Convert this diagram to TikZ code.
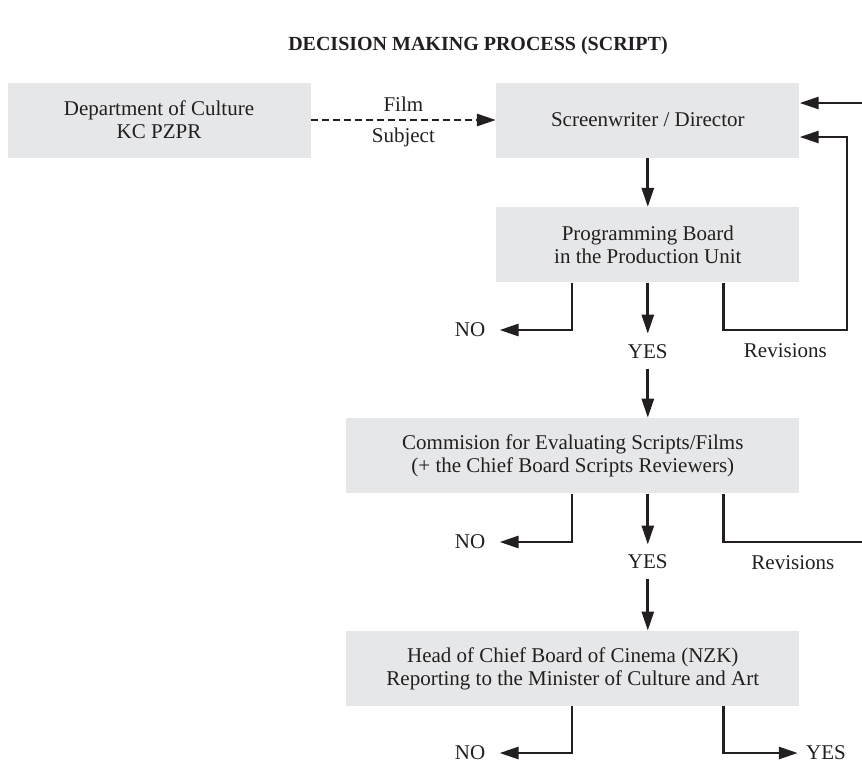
\documentclass[tikz,border=0pt]{standalone}
\usepackage{fontspec}
\setmainfont{Liberation Serif}
\usetikzlibrary{arrows.meta, positioning, calc}
\definecolor{boxgray}{HTML}{E6E7E8}
\definecolor{ink}{HTML}{231F20}
\tikzset{
    block/.style = {rectangle, fill=boxgray, text=ink, align=center, minimum height=37.5pt, minimum width=151.5pt, inner sep=2pt},
    wideblock/.style = {block, minimum width=226.5pt},
    answer/.style = {text=ink, inner xsep=7pt, inner ysep=5pt},
    line/.style = {draw=ink, -{Triangle[length=9.5pt,width=6pt]}, line width=1.35pt},
    dashedline/.style = {line, dash pattern=on 3.5pt off 2pt},
    branch/.style = {draw=ink, line width=1.35pt}
}
\begin{document}
\begin{tikzpicture}[x=0.5pt, y=-0.5pt, node distance=24.5pt, font=\fontsize{10.5}{11.5}\selectfont]
    \useasboundingbox (0,0) rectangle (862,767);

    % Title
    \node [text=ink, font=\fontsize{10}{12}\selectfont\bfseries] (title) at (478,46) {DECISION MAKING PROCESS (SCRIPT)};

    % Party and authors
    \node [block] (dept) at (159,120) {Department of Culture\\KC PZPR};
    \node [block, right=92.5pt of dept] (writer) {Screenwriter / Director};

    % Production unit
    \node [block, below=of writer] (board) {Programming Board\\in the Production Unit};
    \coordinate (bl) at ($(board.south west)!.25!(board.south east)$);
    \coordinate (br) at ($(board.south west)!.75!(board.south east)$);
    \node [answer, below=25.5pt of board] (yes1) {YES};
    \node [answer] (no1) at (470,330) {NO};
    \coordinate (back1) at (847,330);
    \coordinate (back2) at (862,103);

    % Commission
    \node [wideblock, below=67.5pt of board.south east, anchor=north east] (comm) {Commision for Evaluating Scripts/Films\\(+ the Chief Board Scripts Reviewers)};
    \coordinate (cm) at (yes1 |- comm.south);
    \node [answer, below=25.5pt of cm] (yes2) {YES};
    \node [answer] (no2) at (470,542) {NO};
    \coordinate (back3) at (862,542);

    % Head of NZK
    \node [wideblock, below=68.5pt of comm] (head) {Head of Chief Board of Cinema (NZK)\\Reporting to the Minister of Culture and Art};
    \node [answer] (no3) at (470,753) {NO};
    \node [answer, inner xsep=4pt] (yes3) at (826,753) {YES};

    % Arrows
    \path [dashedline] (dept) -- node [above, text=ink] (film) {Film} node [below, text=ink] (subj) {Subject} (writer);
    \path [line] (writer) -- (board);
    \path [line] (board) -- (yes1);
    \path [line] (bl) |- (no1);
    \path [line] (br) |- node [pos=.75, below=3pt, text=ink] (rev1) {Revisions} (back1) |- ($(writer.east)+(0,-8.5pt)$);
    \path [line] (back2) -- ($(writer.east)+(0,8.5pt)$);
    \path [line] (yes1) -- (yes1 |- comm.north);
    \path [line] (cm) -- (yes2);
    \path [line] (comm.south -| bl) |- (no2);
    \path [branch] (comm.south -| br) |- node [pos=.75, below=3pt, text=ink] (rev2) {Revisions} (back3);
    \path [line] (yes2) -- (yes2 |- head.north);
    \path [line] (head.south -| bl) |- (no3);
    \path [line] (head.south -| br) |- (yes3);

\end{tikzpicture}
\end{document}
